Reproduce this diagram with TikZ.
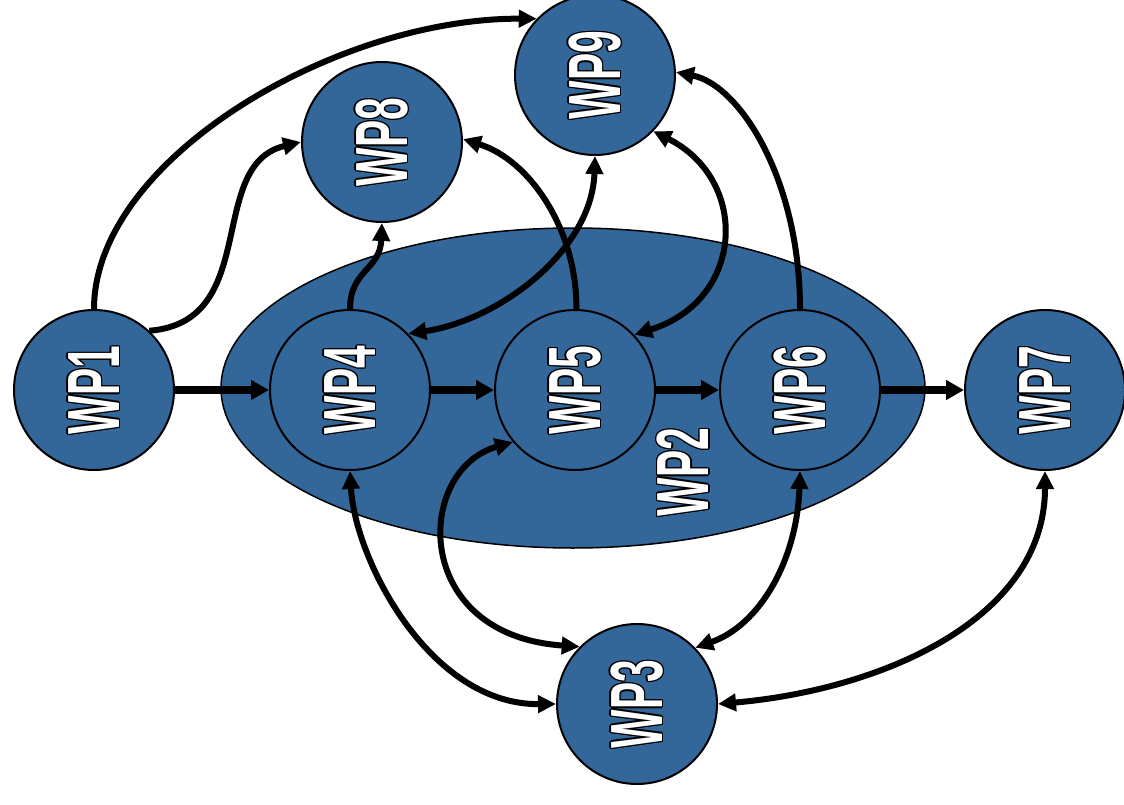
\documentclass[tikz,border=0pt]{standalone}
\usepackage{fontspec}
\usepackage{graphicx}
\newfontfamily\wpfont{Liberation Sans}
\usetikzlibrary{arrows.meta,shapes.geometric}
\definecolor{wpblue}{RGB}{51,102,153}

% white lettering with a thin black outline
\newlength\olx \setlength\olx{2.6pt}
\newlength\oly \setlength\oly{1.5pt}
\newcommand\olcopy[3]{\rlap{\kern#1\raisebox{#2}{\textcolor{black}{#3}}}}
\newcommand\wpword[1]{\scalebox{0.55}[1]{\hbox{%
  \olcopy{\olx}{0pt}{#1}\olcopy{-\olx}{0pt}{#1}%
  \olcopy{0pt}{\oly}{#1}\olcopy{0pt}{-\oly}{#1}%
  \olcopy{0.7\olx}{0.7\oly}{#1}\olcopy{-0.7\olx}{0.7\oly}{#1}%
  \olcopy{0.7\olx}{-0.7\oly}{#1}\olcopy{-0.7\olx}{-0.7\oly}{#1}%
  \textcolor{white}{#1}}}}

\begin{document}
\begin{tikzpicture}[x=1pt,y=-1pt,
  >={Triangle[length=18pt,width=17pt]},
  wp/.style={circle,draw=black,line width=2pt,fill=wpblue,minimum size=160pt,inner sep=0pt},
  wpl/.style={rotate=90,inner sep=0pt,font=\wpfont\bfseries\fontsize{74}{74}\selectfont},
  flow/.style={line width=8pt,-{Triangle[length=18pt,width=19pt]}},
  link/.style={line width=6pt}]
\useasboundingbox (0,0) rectangle (1124,805);

% work package WP2 as the enclosing ellipse
\node[ellipse,draw=black,line width=1.5pt,fill=wpblue,minimum width=704pt,minimum height=320pt,inner sep=0pt] (wp2) at (573,388) {};
\node[wpl] (t2) at (683,472) {\wpword{WP2}};

% work packages
\node[wp] (wp1) at (94,390) {};
\node[wp] (wp4) at (350,390) {};
\node[wp] (wp5) at (575,390) {};
\node[wp] (wp6) at (800,390) {};
\node[wp] (wp7) at (1045,390) {};
\node[wp] (wp8) at (382,142) {};
\node[wp] (wp9) at (595,75) {};
\node[wp] (wp3) at (637,704) {};

\node[wpl] (t1) at (wp1) {\wpword{WP1}};
\node[wpl] (t4) at (wp4) {\wpword{WP4}};
\node[wpl] (t5) at (wp5) {\wpword{WP5}};
\node[wpl] (t6) at (wp6) {\wpword{WP6}};
\node[wpl] (t7) at (wp7) {\wpword{WP7}};
\node[wpl] (t8) at (wp8) {\wpword{WP8}};
\node[wpl] (t9) at (wp9) {\wpword{WP9}};
\node[wpl] (t3) at (wp3) {\wpword{WP3}};

% main chain
\draw[flow] (wp1) -- (wp4);
\draw[flow] (wp4) -- (wp5);
\draw[flow] (wp5) -- (wp6);
\draw[flow] (wp6) -- (wp7);

% upper links
\draw[link,->] (wp1.90) .. controls (94,160) and (335,18) .. (wp9.136);
\draw[link,->] (wp1.47) .. controls (262,322) and (205,165) .. (wp8.180);
\draw[link,->] (wp4.90) .. controls (350,270) and (380,270) .. (wp8.270);
\draw[link,->] (wp5.89) .. controls (577,230) and (530,160) .. (wp8.2);
\draw[link,<->] (wp9.270) .. controls (592,250) and (500,320) .. (wp4.44);
\draw[link,<->] (wp9.-44) .. controls (750,180) and (745,300) .. (wp5.43);
\draw[link,->] (wp6.90) .. controls (800,180) and (740,85) .. (wp9.2);

% lower links to WP3
\draw[link,<->] (wp4.270) .. controls (355,560) and (430,705) .. (wp3.180);
\draw[link,<->] (wp5.220) .. controls (415,470) and (410,635) .. (wp3.135);
\draw[link,<->] (wp6.270) .. controls (797,560) and (760,625) .. (wp3.44);
\draw[link,<->] (wp7.270) .. controls (1045,620) and (880,690) .. (wp3.0);
\end{tikzpicture}
\end{document}
